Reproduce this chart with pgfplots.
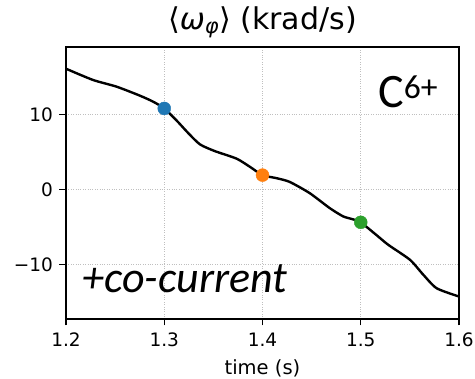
\documentclass[border=0pt]{standalone}
\usepackage{fontspec}
\setmainfont{DejaVu Sans}
\newfontfamily\calfont{Carlito}
\usepackage{pgfplots}
\pgfplotsset{compat=1.18}
\definecolor{tabblue}{HTML}{1F77B4}
\definecolor{taborange}{HTML}{FF7F0E}
\definecolor{tabgreen}{HTML}{2CA02C}
\begin{document}
\begin{tikzpicture}[x=1pt,y=1pt]
\useasboundingbox (0,0) rectangle (475,379);
\begin{axis}[
  at={(66pt,60pt)}, anchor=south west,
  scale only axis, width=393pt, height=272pt,
  xmin=1.2, xmax=1.6, ymin=-17.3, ymax=19,
  xtick={1.2,1.3,1.4,1.5,1.6}, xticklabels={1.2,1.3,1.4,1.5,1.6},
  ytick={-10,0,10}, yticklabels={−10,0,10},
  tick pos=left, tick align=outside,
  major tick length=6.5pt,
  every tick/.style={black, line width=1.2pt},
  axis line style={line width=1.3pt},
  grid=major,
  major grid style={dotted, line width=0.9pt, black!25},
  tick label style={font=\fontsize{18.5}{18.5}\selectfont},
  xticklabel style={yshift=-4pt},
  yticklabel style={xshift=-3pt},
  title={⟨{\itshape ω}\textsubscript{\itshape φ}⟩ (krad/s)},
  title style={font=\fontsize{30}{30}\selectfont, at={(0.5,1)}, anchor=base, yshift=11pt},
  xlabel={time (s)},
  xlabel style={font=\fontsize{19.5}{19.5}\selectfont, at={(0.5,0)}, anchor=base, yshift=-56pt},
  clip=false,
]
\addplot[black, line width=2.4pt, smooth, tension=0.4] coordinates {
(1.200,16.1) (1.2275,14.6) (1.2516,13.7) (1.2753,12.5) (1.2887,11.7) (1.300,10.8)
(1.3125,9.2) (1.3245,7.5) (1.3364,6.0) (1.3516,5.1) (1.3736,4.1) (1.3873,3.0) (1.400,1.9)
(1.414,1.5) (1.4276,1.0) (1.448,-0.5) (1.4684,-2.5) (1.482,-3.6) (1.4921,-4.0) (1.500,-4.4)
(1.516,-6.1) (1.528,-7.4) (1.5501,-9.4) (1.5637,-11.4) (1.5773,-13.2) (1.600,-14.3)
};
\addplot[only marks, mark=*, mark size=6.5pt, color=tabblue] coordinates {(1.3,10.8)};
\addplot[only marks, mark=*, mark size=6.5pt, color=taborange] coordinates {(1.4,1.9)};
\addplot[only marks, mark=*, mark size=6.5pt, color=tabgreen] coordinates {(1.5,-4.4)};
\node[anchor=base west, inner sep=0pt, font=\calfont\fontsize{48}{48}\selectfont] at (rel axis cs:0.794,0.779) {C\textsuperscript{6+}};
\node[anchor=base west, inner sep=0pt, font=\calfont\itshape\fontsize{44}{44}\selectfont] at (rel axis cs:0.041,0.099) {+co-current};
\end{axis}
\end{tikzpicture}
\end{document}
